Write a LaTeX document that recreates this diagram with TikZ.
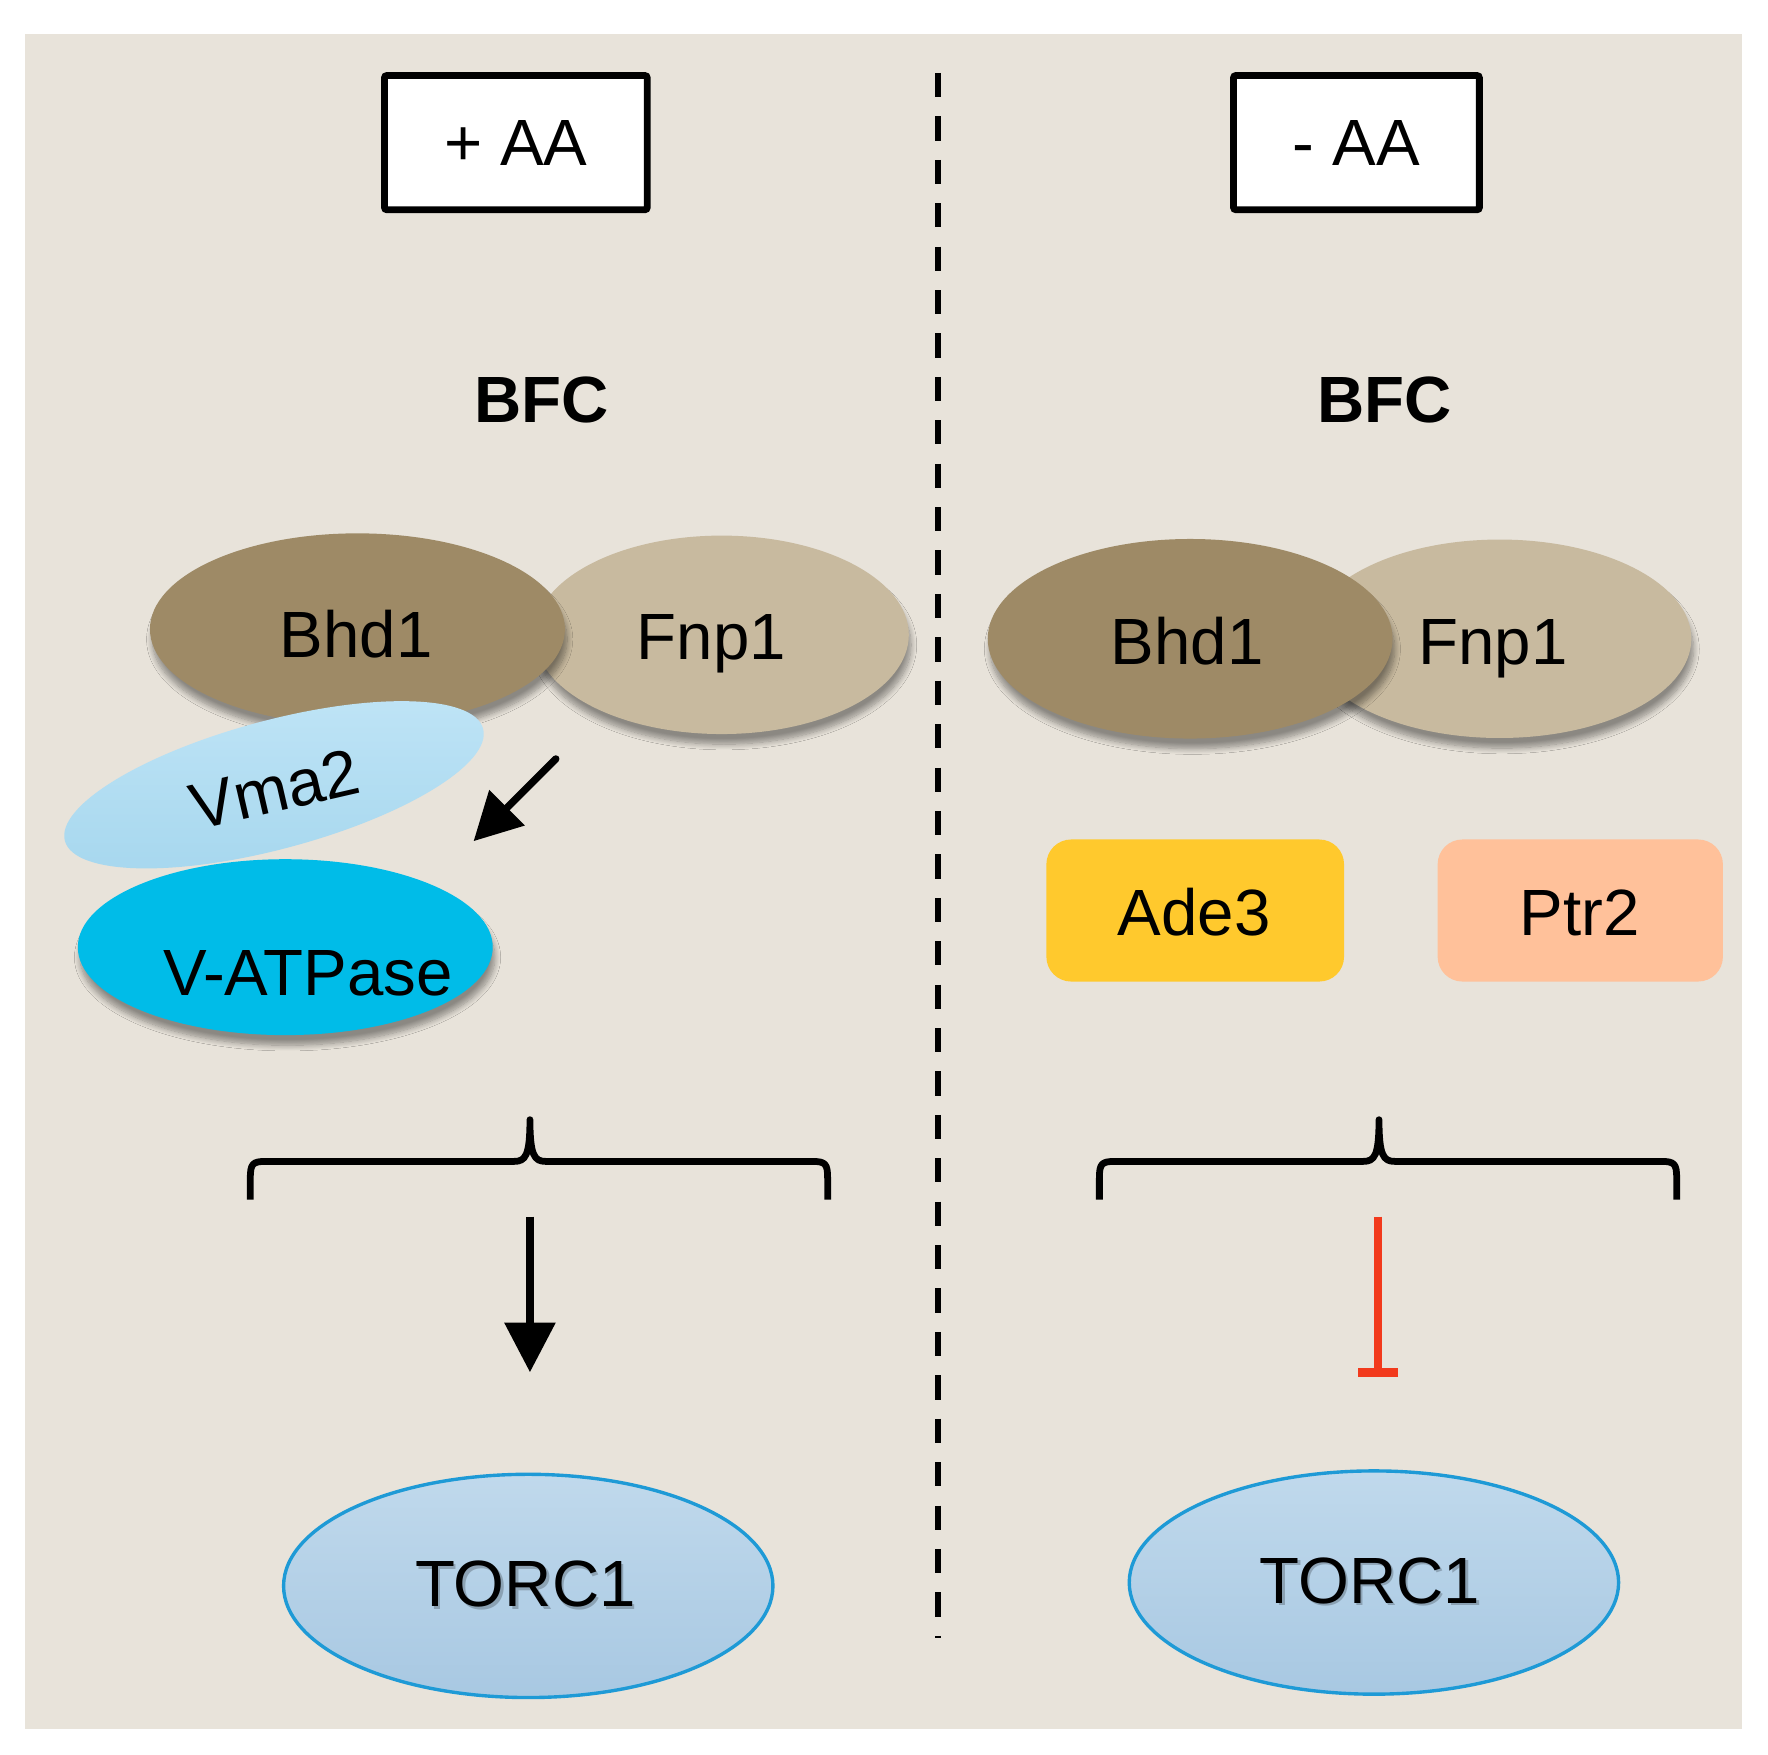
\documentclass[tikz,border=0pt]{standalone}
\usepackage{fontspec}
\setmainfont{Liberation Sans}
\usetikzlibrary{arrows.meta,shapes.geometric,shadows.blur}
\definecolor{bgbeige}{HTML}{E8E3DA}
\definecolor{bhdcol}{HTML}{9E8A66}
\definecolor{fnpcol}{HTML}{C8BA9F}
\definecolor{vmatop}{HTML}{BFE4F6}
\definecolor{vmabot}{HTML}{A6D7EE}
\definecolor{vatpcol}{HTML}{00BCE8}
\definecolor{adecol}{HTML}{FFC92D}
\definecolor{ptrcol}{HTML}{FFC19A}
\definecolor{torctop}{HTML}{C0D9EC}
\definecolor{torcbot}{HTML}{A8C8E2}
\definecolor{torcline}{HTML}{1E9AD6}
\definecolor{inhred}{HTML}{F23A1C}
\begin{document}
\begin{tikzpicture}[x=1pt,y=-1pt,
  big/.style={font=\fontsize{58}{70}\selectfont},
  lbl/.style={big, anchor=base, inner sep=0pt},
  condbox/.style={draw=black, line width=6pt, fill=white, rounded corners=2pt, inner sep=0pt, big},
  blob/.style={ellipse, inner sep=0pt},
  softshadow/.style={blur shadow={shadow xshift=2pt, shadow yshift=-9pt, shadow blur radius=5pt, shadow blur steps=10, shadow opacity=40}},
  torc/.style={blob, draw=torcline, line width=3pt, top color=torctop, bottom color=torcbot, minimum width=434pt, minimum height=198pt},
  protbox/.style={rounded corners=22pt, inner sep=0pt, minimum width=264pt, minimum height=126pt},
  brace/.style={line width=6pt, line join=round},
  actarrow/.style={line width=6.5pt, -{Triangle[length=44pt,width=44pt]}},
  inharrow/.style={draw=inhred, line width=7pt, -{Bar[width=36pt,line width=8pt]}},
  txtshadow/.style={lbl, text=black, opacity=0.22}
]
\fill[white] (0,0) rectangle (1568,1556);
\useasboundingbox (0,0) rectangle (1568,1556);
\fill[bgbeige] (22,30) rectangle (1545,1533);

% condition boxes
\node[condbox, minimum width=233pt, minimum height=119pt] (plusAA) at (457.5,126.5) {+ AA};
\node[condbox, minimum width=218pt, minimum height=119pt] (minusAA) at (1203,126.5) {- AA};

% dashed divider
\coordinate (dtop) at (832,64.7);
\coordinate (dbot) at (832,1453);
\draw[dash pattern=on 21.5pt off 17pt, line width=5.5pt] (dtop) -- (dbot);

% BFC labels
\node[lbl, font=\fontsize{58}{70}\selectfont\bfseries] (bfcL) at (480,375) {BFC};
\node[lbl, font=\fontsize{58}{70}\selectfont\bfseries] (bfcR) at (1228,375) {BFC};

% left complex
\node[blob, fill=fnpcol, softshadow, minimum width=332pt, minimum height=176pt] (fnpL) at (640,563) {};
\node[blob, fill=bhdcol, softshadow, minimum width=368pt, minimum height=170pt] (bhdL) at (317,558) {};
\node[lbl] (bhdLt) at (316,583) {Bhd1};
\node[lbl] (fnpLt) at (631,585) {Fnp1};
\node[blob, rotate=15, top color=vmatop, bottom color=vmabot, minimum width=384pt, minimum height=114pt] (vma) at (243,696) {};
\node[big, inner sep=0pt, rotate=13] (vmat) at (244,700) {Vma2};
\node[blob, fill=vatpcol, softshadow, minimum width=368pt, minimum height=156pt] (vatp) at (253,840) {};
\node[lbl] (vatpt) at (273,883) {V-ATPase};
\coordinate (sarS) at (493,673);
\coordinate (sarE) at (420,746);
\draw[line width=6.4pt, line cap=round, -{Triangle[length=42pt,width=43pt]}] (sarS) -- (sarE);

% right complex
\node[blob, fill=fnpcol, softshadow, minimum width=340pt, minimum height=176pt] (fnpR) at (1330,566.5) {};
\node[blob, fill=bhdcol, softshadow, minimum width=359pt, minimum height=177pt] (bhdR) at (1055.5,566.5) {};
\node[lbl] (bhdRt) at (1053,589) {Bhd1};
\node[lbl] (fnpRt) at (1324,589) {Fnp1};
\node[protbox, fill=adecol] (ade) at (1060,807.5) {};
\node[lbl] (adet) at (1059,830) {Ade3};
\node[protbox, fill=ptrcol, minimum width=253pt] (ptr) at (1401.5,807.5) {};
\node[lbl] (ptrt) at (1401,830) {Ptr2};

% braces
\draw[brace] (222,1064) -- (222,1045) .. controls (222,1032) and (224,1030) .. (236,1030) -- (456,1030)
  .. controls (466,1030) and (470,1025) .. (470,993) .. controls (470,1025) and (474,1030) .. (484,1030)
  -- (720,1030) .. controls (732,1030) and (734,1032) .. (734,1045) -- (734,1064);
\draw[brace] (975,1064) -- (975,1045) .. controls (975,1032) and (977,1030) .. (989,1030) -- (1209,1030)
  .. controls (1219,1030) and (1223,1025) .. (1223,993) .. controls (1223,1025) and (1227,1030) .. (1237,1030)
  -- (1473,1030) .. controls (1485,1030) and (1487,1032) .. (1487,1045) -- (1487,1064);

% TORC1
\node[torc] (torcL) at (468.5,1406.5) {};
\node[torc] (torcR) at (1218.5,1403.5) {};
\node[txtshadow] (torcLs) at (468,1427) {TORC1};
\node[lbl] (torcLt) at (466,1425) {TORC1};
\node[txtshadow] (torcRs) at (1217,1424) {TORC1};
\node[lbl] (torcRt) at (1215,1422) {TORC1};

% activation / inhibition
\coordinate (aLs) at (470,1079);
\coordinate (aLe) at (470,1217);
\draw[actarrow] (aLs) -- (aLe);
\coordinate (iRs) at (1222,1079);
\coordinate (iRe) at (1222,1221);
\draw[inharrow] (iRs) -- (iRe);
\end{tikzpicture}
\end{document}
